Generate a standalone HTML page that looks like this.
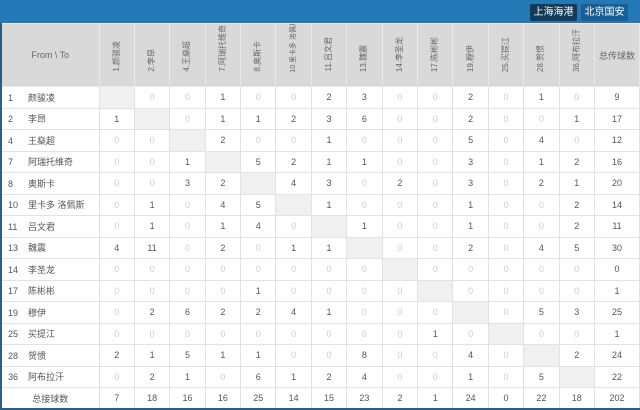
<!DOCTYPE html>
<html><head><meta charset="utf-8"><style>
*{margin:0;padding:0;box-sizing:border-box}
body{width:640px;height:409px;overflow:hidden;background:#fff;font-family:"Liberation Sans","Noto Sans CJK SC",sans-serif;position:relative}
.bar{position:absolute;left:0;top:0;width:640px;height:23px;background:#2279b5}
.btn{position:absolute;top:4px;height:17px;width:47px;color:#fff;font-size:10px;line-height:17px;text-align:center;border-radius:2px}
table{position:absolute;left:0;top:23px;width:640px;border-collapse:collapse;table-layout:fixed;border-left:2px solid #2a5f85;border-right:1px solid #2a5f85;border-bottom:2px solid #2a5f85}
td,th{border:1px solid #e2e2e2;text-align:center;font-size:9px;color:#555;font-weight:normal;padding:0}
thead th{background:#d9d9d9;height:63px;border-color:#e8e8e8;color:#666}
tbody td{height:21.5px}
.z{color:#ccc}
.d{background:#f0f0f0}
.n{text-align:left;padding-left:6px}
.n b{font-weight:normal;display:inline-block;width:20px}
.v{position:relative;overflow:hidden}
.v span{position:absolute;left:50%;bottom:14px;margin-left:-6px;width:12px;writing-mode:vertical-rl;text-orientation:sideways;transform:rotate(180deg);white-space:nowrap;font-size:8px;line-height:12px;text-align:left}
</style></head><body>
<div class="bar"></div>
<div class="btn" style="left:530px;background:#143a59">上海海港</div>
<div class="btn" style="left:581px;background:#1a5e92">北京国安</div>
<table>
<colgroup><col style="width:98px"><col span="14" style="width:35.4px"><col></colgroup>
<thead><tr><th>From \ To</th>
<th class="v"><span>1.颜骏凌</span></th><th class="v"><span>2.李昂</span></th><th class="v"><span>4.王燊超</span></th><th class="v"><span>7.阿瑞托维奇</span></th><th class="v"><span>8.奥斯卡</span></th><th class="v"><span style="font-size:7px;bottom:13px">10.里卡多 洛佩斯</span></th><th class="v"><span>11.吕文君</span></th><th class="v"><span>13.魏震</span></th><th class="v"><span>14.李圣龙</span></th><th class="v"><span>17.陈彬彬</span></th><th class="v"><span>19.穆伊</span></th><th class="v"><span>25.买提江</span></th><th class="v"><span>28.贺惯</span></th><th class="v"><span>36.阿布拉汗</span></th><th>总传球数</th></tr></thead>
<tbody id="tb"></tbody></table>
<script>
var rows=[["1","颜骏凌",[-1,0,0,1,0,0,2,3,0,0,2,0,1,0],9],
["2","李昂",[1,-1,0,1,1,2,3,6,0,0,2,0,0,1],17],
["4","王燊超",[0,0,-1,2,0,0,1,0,0,0,5,0,4,0],12],
["7","阿瑞托维奇",[0,0,1,-1,5,2,1,1,0,0,3,0,1,2],16],
["8","奥斯卡",[0,0,3,2,-1,4,3,0,2,0,3,0,2,1],20],
["10","里卡多 洛佩斯",[0,1,0,4,5,-1,1,0,0,0,1,0,0,2],14],
["11","吕文君",[0,1,0,1,4,0,-1,1,0,0,1,0,0,2],11],
["13","魏震",[4,11,0,2,0,1,1,-1,0,0,2,0,4,5],30],
["14","李圣龙",[0,0,0,0,0,0,0,0,-1,0,0,0,0,0],0],
["17","陈彬彬",[0,0,0,0,1,0,0,0,0,-1,0,0,0,0],1],
["19","穆伊",[0,2,6,2,2,4,1,0,0,0,-1,0,5,3],25],
["25","买提江",[0,0,0,0,0,0,0,0,0,1,0,-1,0,0],1],
["28","贺惯",[2,1,5,1,1,0,0,8,0,0,4,0,-1,2],24],
["36","阿布拉汗",[0,2,1,0,6,1,2,4,0,0,1,0,5,-1],22]];
var h="";
rows.forEach(function(r){h+='<tr><td class="n"><b>'+r[0]+'</b>'+r[1]+'</td>';
r[2].forEach(function(v){h+=v<0?'<td class="d"></td>':(v==0?'<td class="z">0</td>':'<td>'+v+'</td>');});
h+='<td>'+r[3]+'</td></tr>';});
h+='<tr><td>总接球数</td>';[7,18,16,16,25,14,15,23,2,1,24,0,22,18,202].forEach(function(v){h+='<td>'+v+'</td>';});
h+='</tr>';
document.getElementById("tb").innerHTML=h;
</script>
</body></html>
